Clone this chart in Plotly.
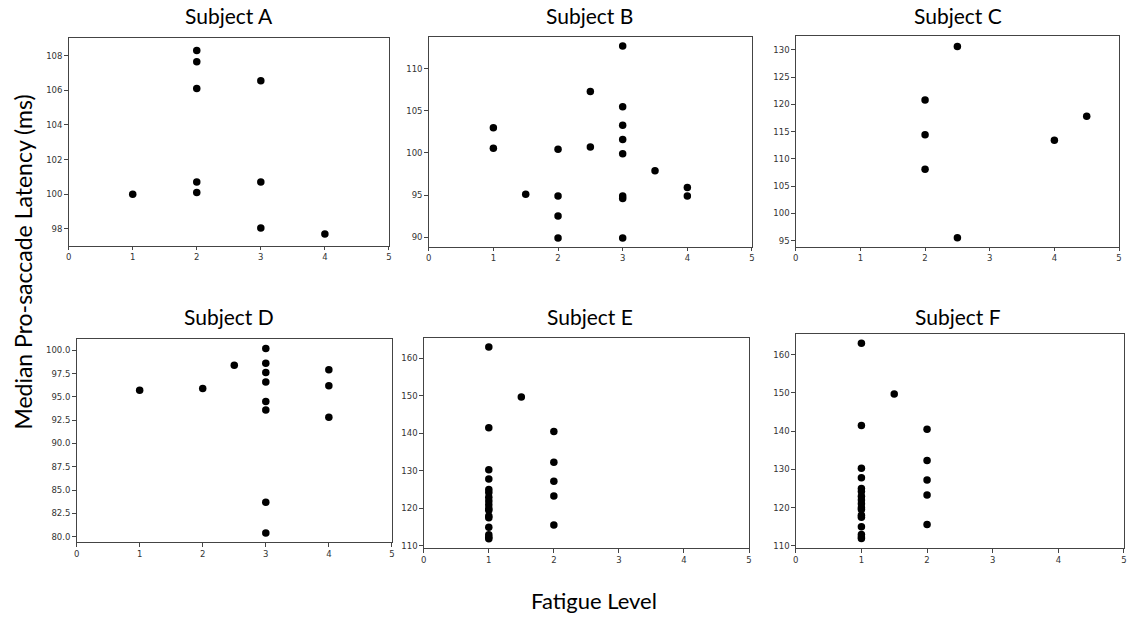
import plotly.graph_objects as go

W, H = 1127, 617

# ---- data ----
subjects = ["Subject A", "Subject B", "Subject C", "Subject D", "Subject E", "Subject F"]

a_x = [1, 2, 2, 2, 2, 2, 3, 3, 3, 4]
a_y = [100.0, 108.3, 107.65, 106.1, 100.7, 100.1, 106.55, 100.7, 98.05, 97.7]

b_x = [1, 1, 1.5, 2, 2, 2, 2, 2.5, 2.5, 3, 3, 3, 3, 3, 3, 3, 3, 3.5, 4, 4]
b_y = [103.0, 100.55, 95.1, 100.45, 94.9, 92.5, 89.9, 107.3, 100.7,
       112.7, 105.5, 103.3, 101.6, 99.9, 94.9, 94.6, 89.9, 97.9, 95.9, 94.9]

c_x = [2, 2, 2, 2.5, 2.5, 4, 4.5]
c_y = [120.8, 114.4, 108.1, 130.6, 95.5, 113.4, 117.8]

d_x = [1, 2, 2.5, 3, 3, 3, 3, 3, 3, 3, 3, 4, 4, 4]
d_y = [95.7, 95.9, 98.4, 100.2, 98.6, 97.6, 96.6, 94.5, 93.6, 83.7, 80.4, 97.9, 96.2, 92.8]

e_x = [1] * 17 + [1.5] + [2] * 5
e_y = [163.0, 141.5, 130.3, 127.8, 125.0, 124.2, 123.0, 122.0, 121.0, 120.0, 119.5,
       118.0, 117.5, 115.0, 113.0, 112.3, 111.9, 149.7, 140.5, 132.3, 127.2, 123.3, 115.6]

f_x = list(e_x)
f_y = list(e_y)

xs = [a_x, b_x, c_x, d_x, e_x, f_x]
ys = [a_y, b_y, c_y, d_y, e_y, f_y]

y_ranges = [[97.02, 109.03], [88.85, 113.8], [93.85, 132.56],
            [79.39, 101.17], [109.36, 165.3], [109.36, 165.3]]
y_dticks = [2, 5, 5, 2.5, 10, 10]
y_tick0 = [98, 90, 95, 80, 110, 110]
y_fmt = ["d", "d", "d", ".1f", "d", "d"]
x_ticks = [0, 1, 2, 3, 4, 5]

# ---- layout geometry (pixels) ----
boxes = [  # left, right, top, bottom
    (66, 388, 38, 247),
    (428, 753, 37, 248),
    (797, 1122, 36, 248),
    (74, 391, 341, 545),
    (423, 750, 340, 551),
    (797, 1127, 336, 551),
]
title_centers = [(227, 16), (590, 16), (960, 16), (227, 318), (590, 318), (960, 318)]

fig = go.Figure()
axis_color = "#444444"
tick_font = dict(family="DejaVu Sans", size=8.5, color="#333333")
title_font = dict(family="Lato", size=21, color="#000000")

for i in range(6):
    l, r, t, b = boxes[i]
    n = "" if i == 0 else str(i + 1)
    fig.add_trace(go.Scatter(
        x=xs[i], y=ys[i], mode="markers",
        marker=dict(color="black", size=7.5, line=dict(width=0)),
        xaxis="x" + n, yaxis="y" + n, showlegend=False,
        hoverinfo="x+y",
    ))
    fig.update_layout(**{
        "xaxis" + n: dict(
            domain=[l / W, min(r / W, 1.0)], anchor="y" + n,
            range=[0, 5], tickmode="array", tickvals=x_ticks,
            ticks="outside", ticklen=3.5, tickwidth=1, tickcolor=axis_color,
            showline=True, linecolor=axis_color, linewidth=1, mirror=True,
            showgrid=False, zeroline=False, tickfont=tick_font,
        ),
        "yaxis" + n: dict(
            domain=[1 - b / H, 1 - t / H], anchor="x" + n,
            range=y_ranges[i], tick0=y_tick0[i], dtick=y_dticks[i],
            tickformat=y_fmt[i],
            ticks="outside", ticklen=3.5, tickwidth=1, tickcolor=axis_color,
            showline=True, linecolor=axis_color, linewidth=1, mirror=True,
            showgrid=False, zeroline=False, tickfont=tick_font,
        ),
    })
    cx, cy = title_centers[i]
    fig.add_annotation(
        text=subjects[i], x=cx / W, y=1 - cy / H, xref="paper", yref="paper",
        showarrow=False, font=title_font, xanchor="center", yanchor="middle",
    )

fig.add_annotation(
    text="Median Pro-saccade Latency (ms)", x=20 / W, y=1 - 263 / H,
    xref="paper", yref="paper", showarrow=False, textangle=-90,
    font=dict(family="Lato", size=23, color="#000000"),
    xanchor="center", yanchor="middle",
)
fig.add_annotation(
    text="Fatigue Level", x=594 / W, y=1 - 603 / H,
    xref="paper", yref="paper", showarrow=False,
    font=dict(family="Lato", size=22, color="#000000"),
    xanchor="center", yanchor="middle",
)

fig.update_layout(
    width=W, height=H, margin=dict(l=0, r=0, t=0, b=0),
    paper_bgcolor="white", plot_bgcolor="white",
)

fig.write_html("out.html")
